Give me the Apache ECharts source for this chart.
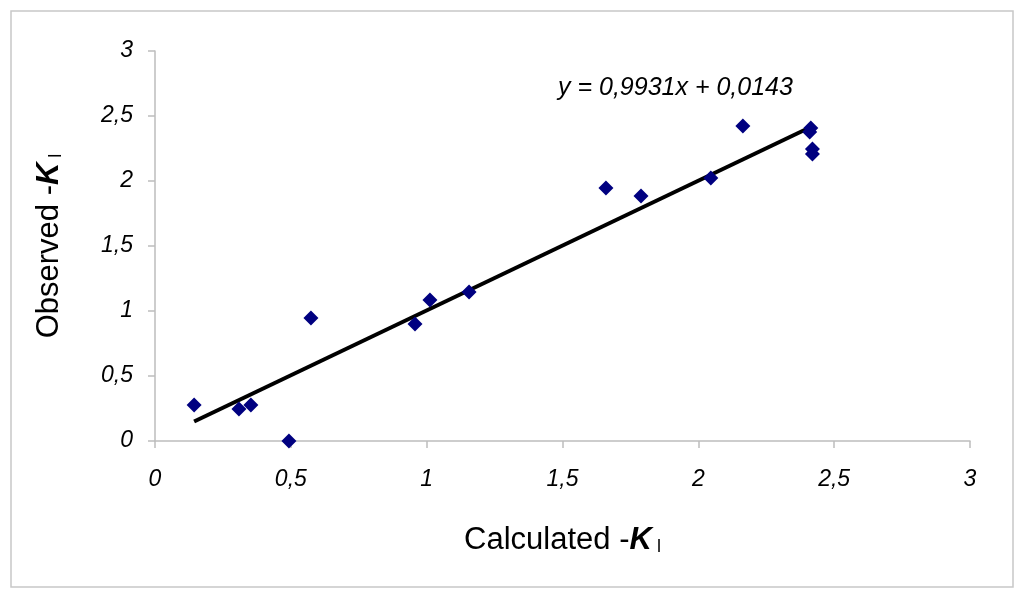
<!DOCTYPE html>
<html>
<head>
<meta charset="utf-8">
<script src="https://cdn.jsdelivr.net/npm/echarts@6/dist/echarts.min.js"></script>
<style>
  html, body { margin: 0; padding: 0; background: #fff; }
  #main { width: 1024px; height: 599px; }
</style>
</head>
<body>
<div id="main"></div>
<script>
// calculated vs observed -K l
var calcK = [0.144, 0.309, 0.353, 0.493, 0.574, 0.957, 1.012, 1.156, 1.66, 1.789, 2.046, 2.164, 2.414, 2.41, 2.42, 2.42];
var obsK  = [0.277, 0.246, 0.277, 0.0, 0.946, 0.9, 1.085, 1.146, 1.946, 1.885, 2.023, 2.423, 2.408, 2.377, 2.246, 2.208];
// trend line ends
var trendX = [0.144, 2.414];
var trendY = [0.15, 2.415];
var ticks = [0, 0.5, 1, 1.5, 2, 2.5, 3];
var equation = 'y = 0,9931x + 0,0143';

var pts = [];
for (var i = 0; i < calcK.length; i++) {
    pts.push([calcK[i], obsK[i]]);
}
var trend = [];
for (var i = 0; i < trendX.length; i++) {
    trend.push([trendX[i], trendY[i]]);
}

function fmt(v) {
    return String(v).replace('.', ',');
}

var axisBase = {
    type: 'value',
    min: ticks[0],
    max: ticks[ticks.length - 1],
    interval: 0.5,
    splitLine: { show: false },
    axisLine: { show: true, lineStyle: { color: '#bdbdbd', width: 1.5 } },
    axisTick: { show: true, length: 7, lineStyle: { color: '#bdbdbd', width: 1.5 } },
    nameLocation: 'middle'
};

var nameRich = {
    n: { fontFamily: 'Liberation Sans', fontSize: 31, color: '#000' },
    k: { fontFamily: 'Liberation Sans', fontSize: 31, fontWeight: 'bold', fontStyle: 'italic', color: '#000' },
    s: { fontFamily: 'Liberation Sans', fontSize: 18, color: '#000', padding: [13, 0, 0, 5] }
};

var labelBase = {
    fontFamily: 'Liberation Sans',
    fontSize: 23,
    fontStyle: 'italic',
    color: '#000',
    formatter: fmt
};

var chart = echarts.init(document.getElementById('main'));
var option = {
    backgroundColor: '#fff',
    animation: false,
    grid: { left: 155, right: 54, top: 51, bottom: 158, containLabel: false },
    graphic: [
        {
            type: 'rect',
            shape: { x: 11, y: 11, width: 1002, height: 576 },
            style: { fill: 'none', stroke: '#c8c8c8', lineWidth: 1.5 },
            silent: true
        },
        {
            type: 'text',
            left: 558,
            top: 76,
            style: {
                text: equation,
                fontFamily: 'Liberation Sans',
                fontSize: 25,
                fontStyle: 'italic',
                fill: '#000'
            }
        }
    ],
    series: [
        {
            type: 'line',
            data: trend,
            symbol: 'none',
            lineStyle: { color: '#000', width: 4 },
            z: 2
        },
        {
            type: 'scatter',
            data: pts,
            symbol: 'diamond',
            symbolSize: [15, 15],
            itemStyle: { color: '#000080', opacity: 1 },
            z: 3
        }
    ]
};

option.xAxis = Object.assign({}, axisBase, {
    name: '{n|Calculated -}{k|K}{s|l}',
    nameGap: 84,
    nameTextStyle: { rich: nameRich },
    axisLabel: Object.assign({ margin: 27 }, labelBase)
});
option.yAxis = Object.assign({}, axisBase, {
    name: '{n|Observed -}{k|K}{s|l}',
    nameGap: 90,
    nameTextStyle: { rich: nameRich },
    axisLabel: Object.assign({ margin: 22 }, labelBase)
});

chart.setOption(option);
</script>
</body>
</html>
